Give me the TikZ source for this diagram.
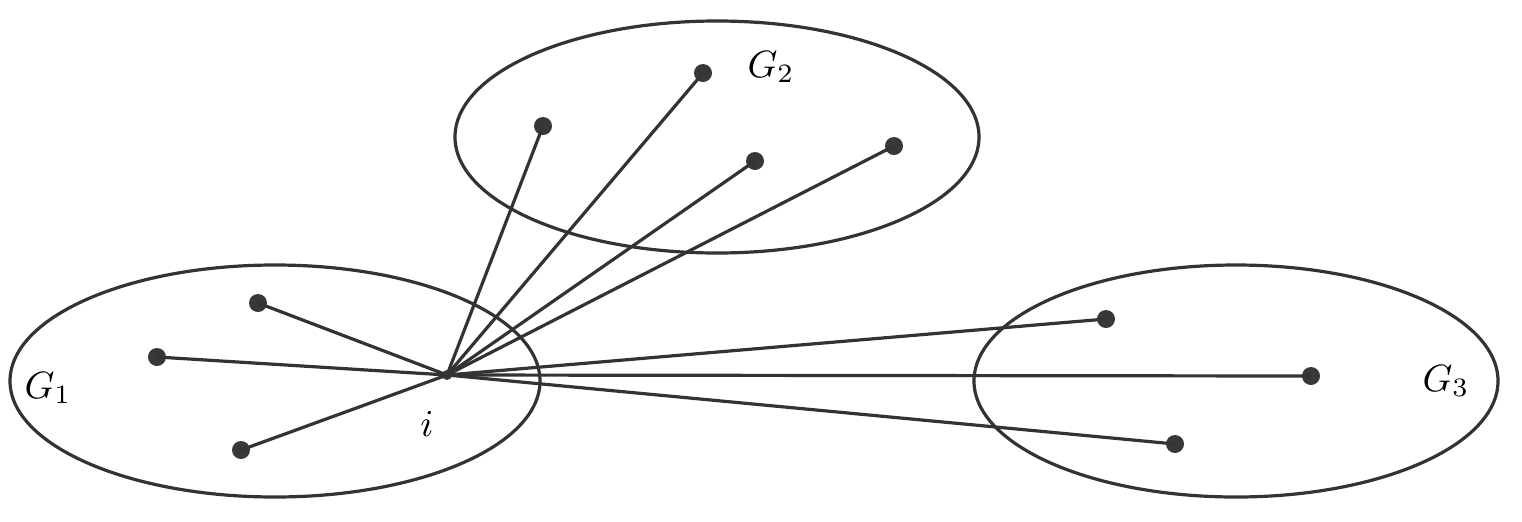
\documentclass[tikz,border=0pt]{standalone}
\begin{document}
\begin{tikzpicture}[x=0.5pt,y=-0.5pt,
  grp/.style={draw=black!80,line width=1.6pt},
  vtx/.style={circle,fill=black!78,inner sep=0pt,minimum size=9pt},
  hubv/.style={circle,fill=black!78,inner sep=0pt,minimum size=5pt},
  edge/.style={draw=black!80,line width=1.6pt},
  lbl/.style={scale=1.9,inner sep=0pt}]
\useasboundingbox (0,0) rectangle (1522,521);
% groups
\draw[grp] (275,381) ellipse [x radius=265, y radius=116];
\draw[grp] (717,137) ellipse [x radius=262, y radius=116];
\draw[grp] (1236,381) ellipse [x radius=262, y radius=116];
% vertices
\node[hubv] (i) at (447,375) {};
\node[vtx] (a1) at (258,303) {};
\node[vtx] (a2) at (157,357) {};
\node[vtx] (a3) at (241,450) {};
\node[vtx] (b1) at (543,126) {};
\node[vtx] (b2) at (703,73) {};
\node[vtx] (b3) at (755,161) {};
\node[vtx] (b4) at (894,146) {};
\node[vtx] (c1) at (1106,319) {};
\node[vtx] (c2) at (1311,376) {};
\node[vtx] (c3) at (1175,444) {};
% edges
\foreach \t in {a1,a2,a3,b1,b2,b3,b4,c1,c2,c3}
  \draw[edge] (i.center) -- (\t.center);
% labels
\node[lbl] (g1) at (48,388) {$G_1$};
\node[lbl] (g2) at (771,67) {$G_2$};
\node[lbl] (g3) at (1446,381) {$G_3$};
\node[lbl] (li) at (427,424) {$i$};
\end{tikzpicture}
\end{document}
